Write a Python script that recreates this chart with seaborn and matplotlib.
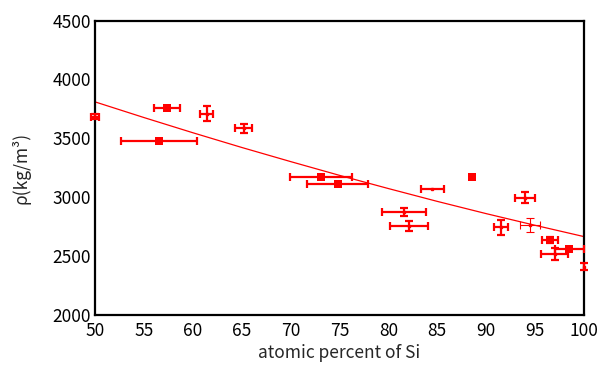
import pandas as pd
import matplotlib
matplotlib.use("Agg")
import matplotlib.pyplot as plt
import seaborn as sns

si_pct = [50.0, 57.4, 61.4, 65.2, 56.5, 73.1, 74.8, 84.5, 81.6, 82.1,
          88.6, 94.0, 91.5, 94.5, 96.5, 98.5, 97.0, 100.0]
density = [3684, 3758, 3707, 3586, 3480, 3170, 3115, 3070, 2872, 2756,
           3175, 2996, 2745, 2762, 2637, 2558, 2518, 2410]
si_err = [0.4, 1.33, 0.68, 0.89, 3.9, 3.15, 3.14, 1.18, 2.27, 1.9,
          0.0, 1.04, 0.75, 1.02, 0.8, 1.46, 1.36, 0.0]
rho_err = [22, 0, 64, 37, 0, 0, 0, 0, 34, 40,
           0, 45, 64, 58, 23, 0, 48, 27]
source = ["bar", "sq", "bar", "bar", "sq", "sq", "sq", "bar", "bar", "bar",
          "sq", "bar", "bar", "thin", "sq", "sq", "bar", "bar"]

# fitted curve, read every 5 at.%
fit_si = [50, 55, 60, 65, 70, 75, 80, 85, 90, 95, 100]
fit_rho = [3809, 3676, 3547, 3422, 3302, 3185, 3073, 2964, 2860, 2761, 2665]

df = pd.DataFrame({"si": si_pct, "rho": density, "xerr": si_err,
                   "yerr": rho_err, "source": source})
fit = pd.DataFrame({"si": fit_si, "rho": fit_rho})

sns.set_style("white")
plt.rcParams["font.family"] = ["Noto Sans CJK JP", "DejaVu Sans"]

fig = plt.figure(figsize=(6.02, 3.67), dpi=100)
ax = fig.add_axes([0.158, 0.142, 0.812, 0.802])

sns.lineplot(data=fit, x="si", y="rho", color="red", lw=0.9, ax=ax)

for _, r in df.iterrows():
    thin = r["source"] == "thin"
    lw = 0.8 if thin else 1.6
    ax.errorbar(r["si"], r["rho"],
                xerr=r["xerr"] if r["xerr"] > 0 else None,
                yerr=r["yerr"] if r["yerr"] > 0 else None,
                fmt="s", ms=2 if r["source"] != "sq" else 0,
                color="red", ecolor="red", elinewidth=lw,
                capsize=3, capthick=lw, clip_on=False, zorder=3)

sq = df[df["source"] == "sq"]
sns.scatterplot(data=sq, x="si", y="rho", marker="s", s=26, color="red",
                edgecolor="red", linewidth=0, ax=ax, zorder=4, clip_on=False)

ax.set_xlim(50, 100)
ax.set_ylim(2000, 4500)
ax.set_xticks(range(50, 101, 5))
ax.set_yticks(range(2000, 4501, 500))
ax.tick_params(direction="in", length=4, width=1.3, labelsize=12.5,
               colors="black")
ax.tick_params(axis="x", pad=5)
ax.tick_params(axis="y", pad=3)
for sp in ax.spines.values():
    sp.set_linewidth(1.6)
    sp.set_color("black")

ax.set_xlabel("atomic percent of Si", fontsize=12.5, labelpad=3)
ax.set_ylabel("ρ(kg/m³)", fontsize=12.5, labelpad=16)

fig.savefig("out.png", dpi=100)
